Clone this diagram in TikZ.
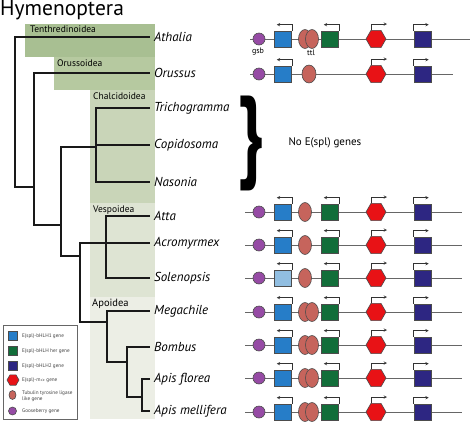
\documentclass[tikz,border=0pt]{standalone}
\usepackage{fontspec}
\setmainfont{PT Sans}
\usetikzlibrary{shapes.geometric}

\definecolor{bhlhone}{RGB}{38,125,200}
\definecolor{bhlhpale}{RGB}{145,190,225}
\definecolor{bhlhher}{RGB}{18,110,58}
\definecolor{bhlhtwo}{RGB}{45,38,130}
\definecolor{malpha}{RGB}{232,18,22}
\definecolor{ttlcol}{RGB}{198,100,92}
\definecolor{gsbcol}{RGB}{150,75,165}
\definecolor{tenthcol}{RGB}{168,191,146}
\definecolor{orusscol}{RGB}{182,201,160}
\definecolor{chalccol}{RGB}{201,213,184}
\definecolor{vespcol}{RGB}{222,228,211}
\definecolor{apoidcol}{RGB}{236,238,229}

\tikzset{
    branch/.style={line width=1.4pt, black!90},
    tip/.style={anchor=west, inner xsep=4pt, inner ysep=1pt, font=\itshape\fontsize{13}{13}\selectfont},
    clade/.style={anchor=north west, inner sep=1pt, font=\fontsize{9.5}{10}\selectfont},
    chrom/.style={draw=black!60, line width=0.9pt},
    gene/.style={draw=black!70, line width=0.6pt, inner sep=0pt, minimum width=17pt, minimum height=16pt},
    gsb/.style={circle, draw=black!70, line width=0.6pt, fill=gsbcol, minimum size=12pt, inner sep=0pt},
    ttl/.style={ellipse, draw=black!70, line width=0.6pt, fill=ttlcol, minimum width=13pt, minimum height=19pt, inner sep=0pt},
    malphagene/.style={regular polygon, regular polygon sides=6, draw=black!70, line width=0.6pt, fill=malpha, minimum size=20pt, inner sep=0pt},
    promoter/.style={->, >=stealth, line width=0.5pt, black!80},
    legtext/.style={anchor=west, inner sep=0pt, align=left, text=black!75, font=\fontsize{5.2}{5.6}\selectfont}
}

% one locus: name, y, colour of bHLH1, number of ttl copies, line start, line end
\newcommand{\generow}[6]{
    \coordinate (#1l) at (#5,#2);
    \coordinate (#1r) at (#6,#2);
    \draw[chrom] (#1l) -- (#1r);
    \node[gsb] (#1g) at (259,#2) {};
    \node[gene, fill=#3] (#1b) at (283,#2) {};
    \node[ttl] (#1t) at (305,#2) {};
    \ifnum#4=2 \node[ttl] (#1u) at (312,#2) {};\fi
    \node[gene, fill=bhlhher] (#1h) at (330,#2) {};
    \node[malphagene] (#1m) at (376,#2) {};
    \node[gene, fill=bhlhtwo] (#1n) at (422.5,#2) {};
    \draw[promoter] (#1b.north east) -- ++(0,-6) -- ++(-15,0);
    \draw[promoter] (#1h.north east) -- ++(0,-6) -- ++(-15,0);
    \draw[promoter] ([xshift=-5pt]#1m.north) -- ++(0,-6) -- ++(16,0);
    \draw[promoter] (#1n.north west) -- ++(0,-6) -- ++(15,0);
}

\begin{document}
\begin{tikzpicture}[x=1pt, y=-1pt]
    \useasboundingbox (0,0) rectangle (472,424);

    % superfamily bands
    \fill[tenthcol] (25,24) rectangle (155,57);
    \fill[orusscol] (54,57) rectangle (155,90);
    \fill[chalccol] (90,90) rectangle (155,203);
    \fill[vespcol] (90,203) rectangle (155,297);
    \fill[apoidcol] (90,297) rectangle (155,419);
    \node[clade] (tenth) at (29,25) {Tenthredinoidea};
    \node[clade] (oruss) at (56,59) {Orussoidea};
    \node[clade] (chalc) at (92,92) {Chalcidoidea};
    \node[clade] (vesp) at (92,205) {Vespoidea};
    \node[clade, font=\fontsize{10.5}{11}\selectfont] (apoid) at (91,298) {Apoidea};

    \node[anchor=north west, inner sep=0pt, font=\fontsize{21.5}{21.5}\selectfont] (title) at (0,0.5) {Hymenoptera};

    % species
    \node[tip] (ath) at (150,37) {Athalia};
    \node[tip] (oru) at (150,73) {Orussus};
    \node[tip] (tri) at (150,108) {Trichogramma};
    \node[tip] (cop) at (150,145) {Copidosoma};
    \node[tip] (nas) at (150,182) {Nasonia};
    \node[tip] (atta) at (150,216) {Atta};
    \node[tip] (acr) at (150,243) {Acromyrmex};
    \node[tip] (sol) at (150,278) {Solenopsis};
    \node[tip] (meg) at (150,311) {Megachile};
    \node[tip] (bom) at (150,347) {Bombus};
    \node[tip] (flo) at (150,379) {Apis florea};
    \node[tip] (mel) at (150,411) {Apis mellifera};

    % internal nodes
    \coordinate (root) at (15,112);
    \coordinate (n2) at (34,187);
    \coordinate (n3) at (61,225);
    \coordinate (chal) at (96,147);
    \coordinate (acu) at (80,256);
    \coordinate (vsp) at (106,245);
    \coordinate (apo) at (107,322);
    \coordinate (bap) at (127,362);
    \coordinate (apis) at (142,397);

    \draw[branch]
        (root) |- (ath.west)  (root) |- (n2)
        (n2) |- (oru.west)    (n2) |- (n3)
        (n3) |- (chal)        (n3) |- (acu)
        (chal) |- (tri.west)  (chal) |- (cop.west)  (chal) |- (nas.west)
        (acu) |- (acr.west)   (acu) |- (apo)
        (vsp) |- (atta.west)  (vsp) |- (sol.west)
        (apo) |- (meg.west)   (apo) |- (bap)
        (bap) |- (bom.west)   (bap) |- (apis)
        (apis) |- (flo.west)  (apis) |- (mel.west);

    % E(spl) loci
    \generow{a}{39}{bhlhone}{2}{250}{470}
    \node[font=\fontsize{8}{8}\selectfont, inner sep=0pt] (gsblab) at (258,52) {gsb};
    \node[font=\fontsize{8}{8}\selectfont, inner sep=0pt] (ttllab) at (311,53) {ttl};

    \draw[chrom] (250,74) coordinate (ol) -- (453,74) coordinate (or);
    \node[gsb] (og) at (259,74) {};
    \node[gene, fill=bhlhone] (ob) at (283,74) {};
    \node[ttl, minimum width=14pt, minimum height=18pt] (ot) at (309,74) {};
    \node[malphagene] (om) at (376,74) {};
    \node[gene, fill=bhlhtwo] (on) at (422.5,74) {};
    \draw[promoter] (ob.north east) -- ++(0,-6) -- ++(-15,0);
    \draw[promoter] ([xshift=-5pt]om.north) -- ++(0,-6) -- ++(16,0);
    \draw[promoter] (on.north west) -- ++(0,-6) -- ++(15,0);

    \node[font=\bfseries\fontsize{102}{102}\selectfont, inner sep=0pt, xscale=0.68] (brace) at (251,143) {\}};
    \node[anchor=west, font=\fontsize{11}{11}\selectfont] (noesp) at (285,143) {No E(spl) genes};

    \generow{t}{212}{bhlhone}{1}{245}{462}
    \generow{c}{245}{bhlhone}{1}{245}{462}
    \generow{s}{278}{bhlhpale}{1}{245}{462}
    \generow{m}{312}{bhlhone}{2}{245}{462}
    \generow{b}{345}{bhlhone}{2}{245}{462}
    \generow{f}{378}{bhlhone}{2}{245}{462}
    \generow{e}{412}{bhlhone}{2}{245}{462}

    % legend
    \draw[black!60, line width=0.6pt] (3,325) rectangle (77,419);
    \node[gene, fill=bhlhone, minimum width=9pt, minimum height=9pt] (k1) at (12.5,336) {};
    \node[gene, fill=bhlhher, minimum width=9pt, minimum height=9pt] (k2) at (12.5,351) {};
    \node[gene, fill=bhlhtwo, minimum width=9pt, minimum height=9pt] (k3) at (12.5,366) {};
    \node[malphagene, minimum size=12pt] (k4) at (13,380) {};
    \node[ttl, minimum width=7pt, minimum height=9pt] (k5) at (12.5,395) {};
    \node[gsb, minimum size=8pt] (k6) at (12.5,411) {};
    \node[legtext] (t1) at (22,336) {E(spl)-bHLH1 gene};
    \node[legtext] (t2) at (22,351) {E(spl)-bHLH her gene};
    \node[legtext] (t3) at (22,366) {E(spl)-bHLH2 gene};
    \node[legtext] (t4) at (22,380) {E(spl)-m$\alpha$ gene};
    \node[legtext] (t5) at (22,396) {Tubulin tyrosine ligase\\like gene};
    \node[legtext] (t6) at (22,411) {Gooseberry gene};
\end{tikzpicture}
\end{document}
